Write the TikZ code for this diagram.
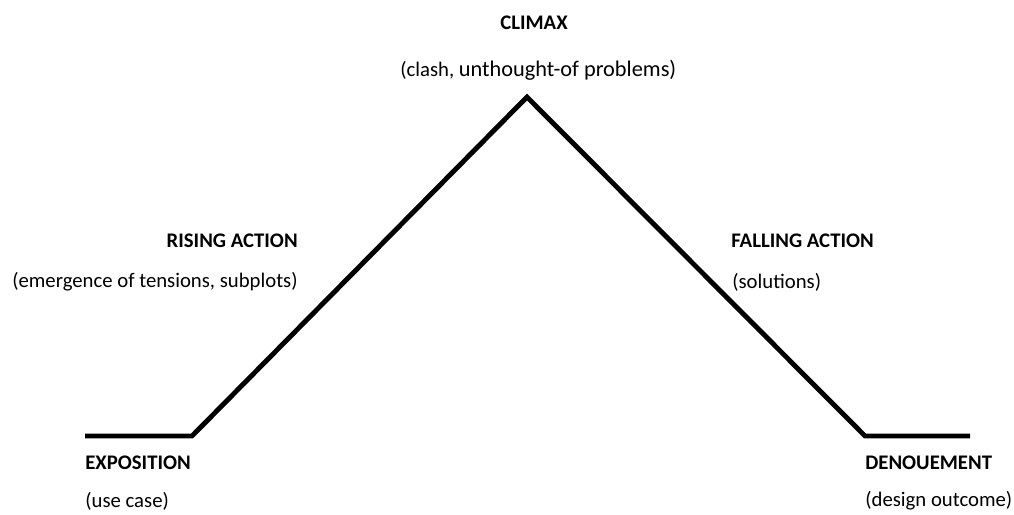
\documentclass[tikz,border=0pt]{standalone}
\usepackage{fontspec}
\setmainfont{Carlito}
\usetikzlibrary{positioning}

\begin{document}
\begin{tikzpicture}[x=0.02cm, y=-0.02cm, font=\fontsize{11.8}{14}\selectfont,
    stage/.style={font=\fontsize{11.8}{14}\selectfont\bfseries, inner sep=0pt},
    note/.style={inner sep=0pt}]
    \useasboundingbox (0,0) rectangle (1014,514);

    % Plot line
    \coordinate (start) at (85,436);
    \coordinate (rise) at (192,436);
    \coordinate (peak) at (527,97);
    \coordinate (fall) at (865,436);
    \coordinate (end) at (970,436);
    \draw[line width=2.8pt, line join=miter] (start) -- (rise) -- (peak) -- (fall) -- (end);

    % Climax
    \node[stage] (climax) at (534,23) {CLIMAX};
    \node[note, anchor=west] (climaxnote) at (400,70)
        {(clash, {\fontsize{12.7}{15}\selectfont unthought-of problems)}};

    % Rising action
    \node[stage, anchor=east] (rising) at (298,241) {RISING ACTION};
    \node[note, anchor=east] (risingnote) at (298,282) {(emergence of tensions, subplots)};

    % Falling action
    \node[stage, anchor=west] (falling) at (731,241) {FALLING ACTION};
    \node[note, anchor=west] (fallingnote) at (732,282) {(solutions)};

    % Exposition
    \node[stage, anchor=west] (exposition) at (85,463) {EXPOSITION};
    \node[note, anchor=west] (expositionnote) at (85,501) {(use case)};

    % Denouement
    \node[stage, anchor=west] (denouement) at (865,463) {DENOUEMENT};
    \node[note, anchor=west] (denouementnote) at (865,501) {(design outcome)};
\end{tikzpicture}
\end{document}
